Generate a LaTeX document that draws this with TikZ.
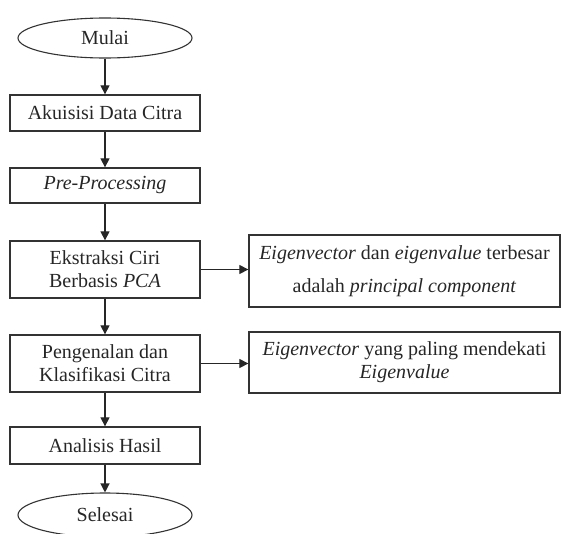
\documentclass[tikz,border=0pt]{standalone}
\usepackage{fontspec}
\setmainfont{Liberation Serif}
\usetikzlibrary{shapes.geometric,arrows.meta}
\begin{document}
\begin{tikzpicture}[x=1pt,y=-1pt,
  every node/.style={font=\fontsize{20}{23}\selectfont, inner sep=0pt, align=center, text=black!85},
  flowbox/.style={draw=black!80, line width=1.3pt, rectangle, minimum width=190pt},
  term/.style={draw=black!80, line width=1.1pt, ellipse, minimum width=174pt, minimum height=40pt},
  notebox/.style={draw=black!80, line width=1.3pt, rectangle, minimum width=311pt},
  arr/.style={line width=1.2pt, draw=black!85, -{Triangle[length=9pt,width=9pt]}}
]
\useasboundingbox (0,0) rectangle (562,533);
\node[term] (mulai) at (105,38) {Mulai};
\node[flowbox, minimum height=36pt] (akuisisi) at (105,113) {Akuisisi Data Citra};
\node[flowbox, minimum height=35pt] (pre) at (105,185.5) {\textit{Pre-Processing}};
\node[flowbox, minimum height=57pt] (ekstraksi) at (105,269.5) {Ekstraksi Ciri\\Berbasis \textit{PCA}};
\node[flowbox, minimum height=57pt] (pengenalan) at (105,363.5) {Pengenalan dan\\Klasifikasi Citra};
\node[flowbox, minimum height=37pt] (analisis) at (105,445.5) {Analisis Hasil};
\node[term, minimum height=44pt] (selesai) at (105,515) {Selesai};
\node[notebox, minimum height=72pt] (r1) at (404.5,271) {\textit{Eigenvector} dan \textit{eigenvalue} terbesar\\[10pt]adalah \textit{principal component}};
\node[notebox, minimum height=61pt] (r2) at (404.5,362.5) {\textit{Eigenvector} yang paling mendekati\\\textit{Eigenvalue}};
\draw[arr] (mulai.south) -- (akuisisi.north);
\draw[arr] (akuisisi.south) -- (pre.north);
\draw[arr] (pre.south) -- (ekstraksi.north);
\draw[arr] (ekstraksi.south) -- (pengenalan.north);
\draw[arr] (pengenalan.south) -- (analisis.north);
\draw[arr] (analisis.south) -- (selesai.north);
\draw[arr] (ekstraksi.east) -- (ekstraksi.east -| r1.west);
\draw[arr] (pengenalan.east) -- (pengenalan.east -| r2.west);
\end{tikzpicture}
\end{document}
